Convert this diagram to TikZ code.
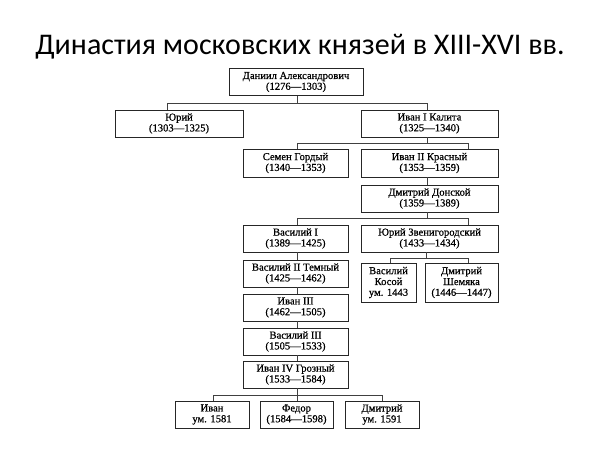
\documentclass[tikz,border=0pt]{standalone}
\usepackage{fontspec}
\setmainfont{Liberation Serif}
\newfontfamily\titlefont{Carlito}
\newfontfamily\boxfont[FakeBold=0.6]{Liberation Serif}
\begin{document}
\begin{tikzpicture}[x=1pt,y=-1pt,
  box/.style={draw=black!85,line width=0.8pt,inner sep=0pt,align=center,
    font=\boxfont\fontsize{10.6}{10.8}\selectfont,text=black},
  conn/.style={draw=black!75,line width=0.6pt}]
\useasboundingbox (0,0) rectangle (600,450);
\fill[white] (0,0) rectangle (600,450);
\node[anchor=base,font=\titlefont\fontsize{30}{33}\selectfont] (title) at (300,54) {Династия московских князей в XIII-XVI вв.};
% boxes
\node[box,minimum width=134,minimum height=27] (dan) at (296,82) {Даниил Александрович\\(1276—1303)};
\node[box,minimum width=128,minimum height=27] (yur) at (179,123.5) {Юрий\\(1303—1325)};
\node[box,minimum width=137,minimum height=27] (iv1) at (429.5,123.5) {Иван I Калита\\(1325—1340)};
\node[box,minimum width=105,minimum height=28] (sem) at (295.5,163) {Семен Гордый\\(1340—1353)};
\node[box,minimum width=137,minimum height=28] (iv2) at (429.5,163) {Иван II Красный\\(1353—1359)};
\node[box,minimum width=137,minimum height=27] (dmd) at (429.5,198.5) {Дмитрий Донской\\(1359—1389)};
\node[box,minimum width=105,minimum height=27] (vas1) at (295.5,238.5) {Василий I\\(1389—1425)};
\node[box,minimum width=137,minimum height=27] (yuz) at (429.5,238.5) {Юрий Звенигородский\\(1433—1434)};
\node[box,minimum width=105,minimum height=27] (vas2) at (295.5,273.5) {Василий II Темный\\(1425—1462)};
\node[box,minimum width=55,minimum height=39] (kos) at (388.5,282.5) {Василий\\Косой\\ум. 1443};
\node[box,minimum width=73,minimum height=39] (shem) at (461.5,282.5) {Дмитрий\\Шемяка\\(1446—1447)};
\node[box,minimum width=105,minimum height=27] (iv3) at (295.5,307.5) {Иван III\\(1462—1505)};
\node[box,minimum width=105,minimum height=27] (vas3) at (295.5,341.5) {Василий III\\(1505—1533)};
\node[box,minimum width=105,minimum height=27] (iv4) at (295.5,374.5) {Иван IV Грозный\\(1533—1584)};
\node[box,minimum width=74,minimum height=27] (ivan) at (212,414.5) {Иван\\ум. 1581};
\node[box,minimum width=73,minimum height=27] (fed) at (296.5,414.5) {Федор\\(1584—1598)};
\node[box,minimum width=74,minimum height=27] (dmi) at (382,414.5) {Дмитрий\\ум. 1591};
% junction coordinates
\coordinate (j1) at (297,103);
\coordinate (j2) at (427,143);
\coordinate (j3) at (427,218);
\coordinate (j4) at (426,258);
\coordinate (j5) at (297,395);
% connectors
\draw[conn] (j1 |- dan.south) -- (j1);
\draw[conn] (167,0 |- yur.north) -- (167,103) -- (427,103) -- (427,0 |- iv1.north);
\draw[conn] (j2 |- iv1.south) -- (j2);
\draw[conn] (297,0 |- sem.north) -- (297,143) -- (468,143) -- (468,0 |- iv2.north);
\draw[conn] (j2 |- iv2.south) -- (j2 |- dmd.north);
\draw[conn] (j3 |- dmd.south) -- (j3);
\draw[conn] (297,0 |- vas1.north) -- (297,218) -- (468,218) -- (468,0 |- yuz.north);
\draw[conn] (297,0 |- vas1.south) -- (297,0 |- vas2.north);
\draw[conn] (297,0 |- vas2.south) -- (297,0 |- iv3.north);
\draw[conn] (297,0 |- iv3.south) -- (297,0 |- vas3.north);
\draw[conn] (297,0 |- vas3.south) -- (297,0 |- iv4.north);
\draw[conn] (j4 |- yuz.south) -- (j4);
\draw[conn] (390,0 |- kos.north) -- (390,258) -- (468,258) -- (468,0 |- shem.north);
\draw[conn] (j5 |- iv4.south) -- (j5 |- fed.north);
\draw[conn] (213,0 |- ivan.north) -- (213,395) -- (382,395) -- (382,0 |- dmi.north);
\end{tikzpicture}
\end{document}
